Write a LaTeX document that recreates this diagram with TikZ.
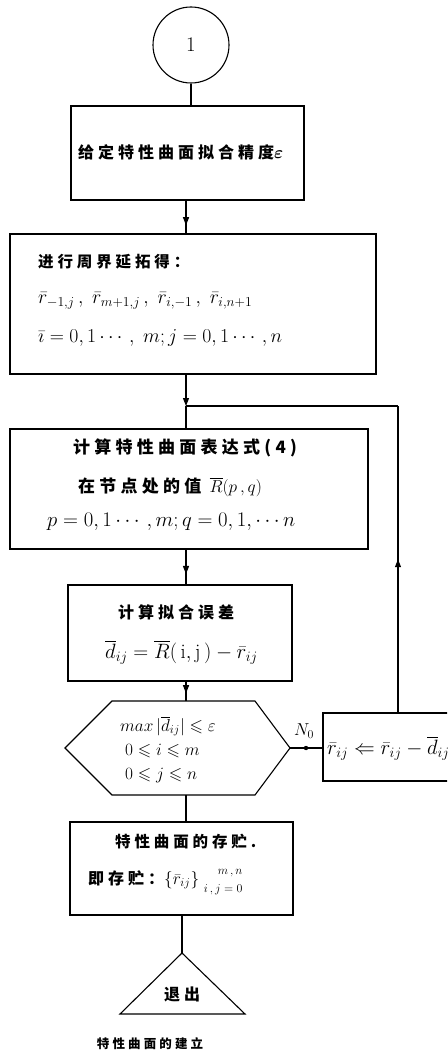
\documentclass[tikz,border=0pt]{standalone}
\usepackage{amsmath,amssymb}
\usepackage{fontspec}
\newfontfamily\cjk{Noto Sans CJK SC}[LetterSpace=25]
\usetikzlibrary{arrows.meta,decorations.markings}
\tikzset{
  ln/.style={line width=1.1pt},
  box/.style={draw, line width=1.1pt, rectangle, inner sep=0pt},
  tip/.style={-{Triangle[length=8pt,width=6pt]}},
  midarrow/.style={postaction={decorate}, decoration={markings, mark=at position #1 with {\arrow{Triangle[length=8pt,width=6pt]}}}},
  txt/.style={inner sep=0pt, anchor=west, font=\cjk\bfseries\fontsize{16}{18}\selectfont},
  mtxt/.style={inner sep=0pt, anchor=west, font=\cjk\fontsize{20.74}{22}\selectfont},
}
\begin{document}
\begin{tikzpicture}[x=1pt,y=-1pt]
\clip (0,0) rectangle (447,1056);
\fill[white] (0,0) rectangle (447,1056);
% main vertical reference
\coordinate (mx) at (186,0);
\coordinate (fx) at (398,0);
% nodes
\node[draw, circle, line width=1.1pt, minimum size=76pt, inner sep=0pt, font=\fontsize{20.74}{22}\selectfont] (c1) at (191,45) {1};
\node[box, minimum width=233pt, minimum height=94pt] (b1) at (187.5,153) {};
\node[box, minimum width=366pt, minimum height=140pt] (b2) at (193,304) {};
\node[box, minimum width=358pt, minimum height=120pt] (b3) at (189,489) {};
\node[box, minimum width=224pt, minimum height=96pt] (b4) at (180,633) {};
\node[box, minimum width=129pt, minimum height=68pt] (sb) at (387.5,747) {};
\node[box, minimum width=223pt, minimum height=93pt] (b5) at (181.5,868.5) {};
% hexagon
\coordinate (hT) at (186,701);
\coordinate (hB) at (186,795);
\coordinate (hR) at (290,748);
\draw[ln] (65,748) -- (112,701) -- (255,701) -- (hR) -- (255,795) -- (112,795) -- cycle;
% triangle
\coordinate (tA) at (182,953);
\draw[ln] (tA) -- (245,1014) -- (120,1014) -- cycle;
% texts
\node[txt] (t1) at (78,152) {给定特性曲面拟合精度$\boldsymbol{\varepsilon}$};
\node[txt, font=\cjk\bfseries\fontsize{15.5}{18}\selectfont] (t2a) at (38,262) {进行周界延拓得：};
\node[mtxt, scale=0.95] (t2b) at (38,301) {$\bar r_{-1,j}\,,\;\bar r_{m+1,j}\,,\;\bar r_{i,-1}\,,\;\bar r_{i,n+1}$};
\node[mtxt, scale=0.95] (t2c) at (38,338) {$\bar{\imath} = 0,1\cdots,\;m;j = 0,1\cdots,n$};
\node[txt, font=\cjk\bfseries\fontsize{17}{19}\selectfont] (t3a) at (73,448) {计算特性曲面表达式(4)};
\node[txt, font=\cjk\bfseries\fontsize{17}{19}\selectfont] (t3b) at (78,487) {在节点处的值 $\overline{R}(p\,,q)$};
\node[mtxt] (t3c) at (47,522) {$p = 0,1\cdots,m;q = 0,1,\cdots n$};
\node[txt] (t4a) at (118,612) {计算拟合误差};
\node[mtxt] (t4b) at (105,652) {$\overline{d}_{ij} = \overline{R}(\,\mathrm{i},\mathrm{j}\,)-\bar r_{ij}$};
\node[mtxt, font=\fontsize{17.28}{19}\selectfont] (h1) at (120,726) {$max\,|\overline{d}_{ij}|\leqslant\varepsilon$};
\node[mtxt, font=\fontsize{17.28}{19}\selectfont] (h2) at (125,751) {$0\leqslant i\leqslant m$};
\node[mtxt, font=\fontsize{17.28}{19}\selectfont] (h3) at (125,776) {$0\leqslant j\leqslant n$};
\node[mtxt] (st) at (327,748) {$\bar r_{ij}\Leftarrow\bar r_{ij}-\overline{d}_{ij}$};
\node[txt, font=\cjk\bfseries\fontsize{15.5}{18}\selectfont] (t5a) at (115,842) {特性曲面的存贮.};
\node[txt] (t5b) at (88,880) {即存贮：\fontsize{17.28}{20}\selectfont$\{\bar r_{ij}\}\;\renewcommand{\arraystretch}{0.9}\begin{array}{@{}r@{}}\scriptstyle m\,,\,n\\ \scriptstyle i\,,\,j\;=\;0\end{array}$};
\node[txt, anchor=center] (ex) at (182,994) {退出};
\node[inner sep=0pt, font=\cjk\bfseries\fontsize{12.5}{15}\selectfont] (cap) at (150,1044) {特性曲面的建立};
\node[inner sep=0pt, font=\fontsize{17.28}{19}\selectfont] (no) at (304,731) {$N_0$};
% connectors
\coordinate (j) at (186,406);
\draw[ln] (c1.south) -- (c1.south |- b1.north);
\draw[ln, midarrow=0.75] (mx |- b1.south) -- (mx |- b2.north);
\draw[ln, tip] (mx |- b2.south) -- (j);
\draw[ln] (j) -- (mx |- b3.north);
\draw[ln, midarrow=0.7] (mx |- b3.south) -- (mx |- b4.north);
\draw[ln, midarrow=0.6] (mx |- b4.south) -- (hT);
\draw[ln] (hR) -- (sb.west |- hR);
\fill (306,748) circle (2.2pt);
\draw[ln, midarrow=0.5] (fx |- sb.north) -- (fx |- j);
\draw[ln] (fx |- j) -- (j);
\draw[ln] (hB) -- (hB |- b5.north);
\draw[ln] (b5.south -| tA) -- (tA);
\end{tikzpicture}
\end{document}
